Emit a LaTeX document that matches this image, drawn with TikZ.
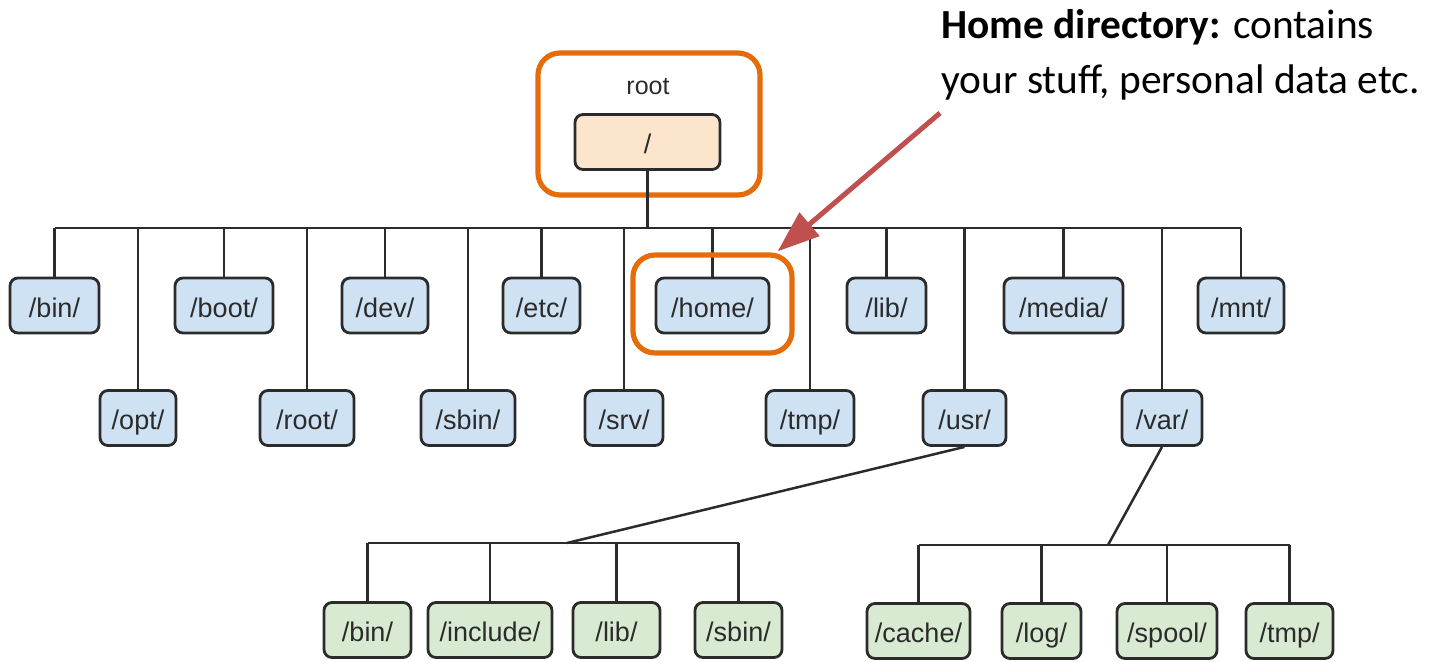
\documentclass[tikz,border=0pt]{standalone}
\usepackage{fontspec}
\setmainfont{Liberation Sans}
\newfontfamily\calloutfont{Carlito}
\usetikzlibrary{arrows.meta,positioning}
\definecolor{dirblue}{HTML}{CFE2F3}
\definecolor{dirgreen}{HTML}{D9EAD3}
\definecolor{rootfill}{HTML}{FCE5CD}
\definecolor{hiorange}{HTML}{E46C0A}
\definecolor{arrowred}{HTML}{C0504D}
\definecolor{edgegray}{HTML}{2B2B2B}

\begin{document}
\begin{tikzpicture}[
    x=0.5pt, y=-0.5pt,
    font=\fontsize{13.5}{16}\selectfont,
    dir/.style={draw=edgegray, line width=1.4pt, rounded corners=4pt, fill=dirblue, text=edgegray, inner sep=0pt, minimum height=27.5pt, text height=13pt, text depth=1.5pt},
    sub/.style={dir, fill=dirgreen},
    hilite/.style={draw=hiorange, line width=2.6pt, rounded corners=11pt, inner sep=0pt},
    link/.style={draw=edgegray, line width=1.25pt},
    pointer/.style={-{Triangle[length=21pt, width=15pt]}, draw=arrowred, line width=2.5pt}
  ]
    \useasboundingbox (0,0) rectangle (1437,661);

    % root
    \node[font=\fontsize{12.5}{15}\selectfont, text=edgegray] (rootlabel) at (648,87) {root};
    \node[dir, fill=rootfill, minimum width=72.5pt] (slash) at (647.5,142) {/};
    \node[hilite, minimum width=111pt, minimum height=71pt] (rootframe) at (649,124) {};

    % first level, upper row
    \node[dir, minimum width=44.5pt] (bin) at (54.5,305.5) {/bin/};
    \node[dir, minimum width=49pt] (boot) at (224,305.5) {/boot/};
    \node[dir, minimum width=43pt] (dev) at (385,305.5) {/dev/};
    \node[dir, minimum width=38.5pt] (etc) at (541.5,305.5) {/etc/};
    \node[dir, minimum width=56.5pt] (home) at (712.5,305.5) {/home/};
    \node[dir, minimum width=39.5pt] (lib) at (886.5,305.5) {/lib/};
    \node[dir, minimum width=59.5pt] (media) at (1063.5,305.5) {/media/};
    \node[dir, minimum width=43pt] (mnt) at (1241,305.5) {/mnt/};

    % first level, lower row
    \node[dir, minimum width=38pt] (opt) at (138,418) {/opt/};
    \node[dir, minimum width=47pt] (root) at (307,418) {/root/};
    \node[dir, minimum width=47pt] (sbin) at (468,418) {/sbin/};
    \node[dir, minimum width=39pt] (srv) at (624,418) {/srv/};
    \node[dir, minimum width=44pt] (tmp) at (810,418) {/tmp/};
    \node[dir, minimum width=41.5pt] (usr) at (964.5,418) {/usr/};
    \node[dir, minimum width=40pt] (var) at (1162,418) {/var/};

    % below /usr/
    \node[sub, minimum width=43.5pt] (ubin) at (367.5,630) {/bin/};
    \node[sub, minimum width=62pt] (uinclude) at (490,630) {/include/};
    \node[sub, minimum width=43.5pt] (ulib) at (616.5,630) {/lib/};
    \node[sub, minimum width=43.5pt] (usbin) at (738.5,630) {/sbin/};

    % below /var/
    \node[sub, minimum width=51.5pt] (vcache) at (918.5,631) {/cache/};
    \node[sub, minimum width=39.5pt] (vlog) at (1041.5,631) {/log/};
    \node[sub, minimum width=50pt] (vspool) at (1167,631) {/spool/};
    \node[sub, minimum width=43.5pt] (vtmp) at (1289.5,631) {/tmp/};

    % tree lines
    \coordinate (topbus) at (647.5,228);
    \coordinate (usrbus) at (567,543);
    \coordinate (varbus) at (1108,545);
    \draw[link] (slash) -- (topbus);
    \draw[link] (bin.north |- topbus) -- (mnt.north |- topbus);
    \foreach \n in {bin,opt,boot,root,dev,sbin,etc,srv,home,tmp,lib,usr,media,var,mnt}
      \draw[link] (\n.north) -- (\n.north |- topbus);
    \draw[link] (usr.south) -- (usrbus);
    \draw[link] (ubin.north |- usrbus) -- (usbin.north |- usrbus);
    \foreach \n in {ubin,uinclude,ulib,usbin}
      \draw[link] (\n.north) -- (\n.north |- usrbus);
    \draw[link] (var.south) -- (varbus);
    \draw[link] (vcache.north |- varbus) -- (vtmp.north |- varbus);
    \foreach \n in {vcache,vlog,vspool,vtmp}
      \draw[link] (\n.north) -- (\n.north |- varbus);

    % highlight and callout
    \node[hilite, minimum width=79.5pt, minimum height=49pt] (homeframe) at (712.5,304) {};
    \node[anchor=north west, align=left, inner sep=0pt, font=\calloutfont\fontsize{20.7}{27.5}\selectfont] (callout) at (941,9) {\textbf{Home directory:} contains\\your stuff, personal data etc.};
    \coordinate (calltail) at (940,113);
    \draw[pointer] (calltail) -- ([xshift=-8.5pt,yshift=0.5pt]homeframe.north east);
  \end{tikzpicture}
\end{document}
